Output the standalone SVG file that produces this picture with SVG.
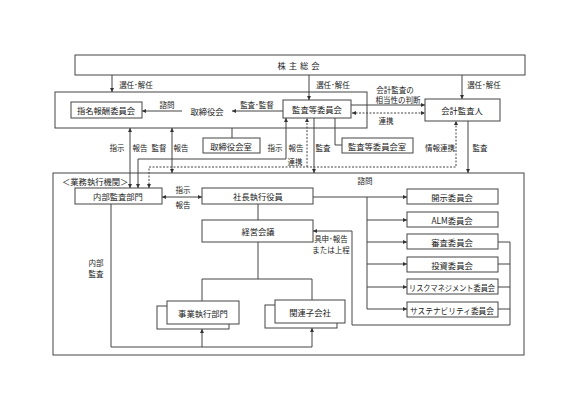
<svg xmlns="http://www.w3.org/2000/svg" width="587" height="415" viewBox="0 0 587 415">
<style>
.bx{fill:#fff;stroke:#444;stroke-width:1}
.t{font-family:"Noto Sans CJK JP","Noto Sans",sans-serif;font-size:8.3px;fill:#222;text-anchor:middle;dominant-baseline:central}
.l{font-family:"Noto Sans CJK JP","Noto Sans",sans-serif;font-size:7.5px;fill:#222;text-anchor:middle;dominant-baseline:central}
.c{fill:none;stroke:#444;stroke-width:1}
.d{fill:none;stroke:#444;stroke-width:1;stroke-dasharray:2,1.5}
</style>
<defs>
<marker id="ah" viewBox="0 0 6 6" refX="6" refY="3" markerWidth="4" markerHeight="4" orient="auto-start-reverse"><path d="M0,0L6,3L0,6z" fill="#333"/></marker>
</defs>
<rect width="587" height="415" fill="#fff"/>

<g id="shareholders"><rect class="bx" x="75" y="55" width="450" height="20"/><text class="t" x="300" y="65" letter-spacing="3">株主総会</text></g>
<g id="board"><rect class="bx" x="55" y="92" width="312" height="36"/><text class="t" x="207" y="111">取締役会</text></g>
<g id="nomination"><rect class="bx" x="71" y="102" width="71" height="16"/><text class="t" x="106" y="110">指名報酬委員会</text></g>
<g id="audit-committee"><rect class="bx" x="283" y="100" width="68" height="18"/><text class="t" x="317" y="109">監査等委員会</text></g>
<g id="auditor"><rect class="bx" x="425" y="99" width="75" height="22"/><text class="t" x="462" y="110">会計監査人</text></g>
<g id="board-office"><rect class="bx" x="203" y="138" width="57" height="15"/><text class="t" x="231" y="145.5">取締役会室</text></g>
<g id="audit-office"><rect class="bx" x="342" y="138" width="71" height="15"/><text class="t" x="377" y="145.5">監査等委員会室</text></g>

<g id="execution"><rect class="bx" x="53" y="173" width="471" height="182" fill="none"/><text class="t" x="62" y="181" style="text-anchor:start">＜業務執行機関＞</text></g>
<g id="internal-audit"><rect class="bx" x="75" y="188" width="87" height="16"/><text class="t" x="118" y="196">内部監査部門</text></g>
<g id="president"><rect class="bx" x="202" y="188" width="111" height="16"/><text class="t" x="258" y="196">社長執行役員</text></g>
<g id="management"><rect class="bx" x="202" y="220" width="111" height="22"/><text class="t" x="258" y="231">経営会議</text></g>
<g id="business"><rect class="bx" x="157" y="306" width="72" height="23"/><rect class="bx" x="167" y="301" width="72" height="23"/><text class="t" x="203" y="312.5">事業執行部門</text></g>
<g id="subsidiaries"><rect class="bx" x="265" y="305" width="72" height="23"/><rect class="bx" x="275" y="300" width="70" height="23"/><text class="t" x="310" y="311.5">関連子会社</text></g>
<g id="disclosure"><rect class="bx" x="407" y="189" width="91" height="15"/><text class="t" x="452" y="196.5">開示委員会</text></g>
<g id="alm"><rect class="bx" x="407" y="212" width="91" height="15"/><text class="t" x="452" y="219.5">ALM委員会</text></g>
<g id="review"><rect class="bx" x="407" y="234" width="91" height="15"/><text class="t" x="452" y="241.5">審査委員会</text></g>
<g id="investment"><rect class="bx" x="407" y="257" width="91" height="15"/><text class="t" x="452" y="264.5">投資委員会</text></g>
<g id="risk"><rect class="bx" x="407" y="279" width="91" height="15"/><text class="t" x="452" y="286.5" textLength="86" lengthAdjust="spacingAndGlyphs">リスクマネジメント委員会</text></g>
<g id="sustainability"><rect class="bx" x="407" y="302" width="91" height="15"/><text class="t" x="452" y="309.5" textLength="84" lengthAdjust="spacingAndGlyphs">サステナビリティ委員会</text></g>

<g id="connectors">
<path class="c" d="M112,75V92" marker-end="url(#ah)"/>
<path class="c" d="M309,75V100" marker-end="url(#ah)"/>
<path class="c" d="M462,75V99" marker-end="url(#ah)"/>
<path class="c" d="M182,111H142" marker-end="url(#ah)"/>
<path class="c" d="M283,111H232" marker-end="url(#ah)"/>
<path class="c" d="M351,105H425" marker-end="url(#ah)"/>
<path class="d" d="M352,113H425" marker-start="url(#ah)" marker-end="url(#ah)"/>
<path class="c" d="M232,128V138"/>
<path class="c" d="M130,128V188" marker-start="url(#ah)" marker-end="url(#ah)"/>
<path class="c" d="M172,128V173" marker-start="url(#ah)" marker-end="url(#ah)"/>
<path class="c" d="M286,118V159H138V188" marker-start="url(#ah)" marker-end="url(#ah)"/>
<path class="d" d="M149,188V167H456V121" marker-start="url(#ah)" marker-end="url(#ah)"/>
<path class="d" d="M307,167V118" marker-end="url(#ah)"/>
<path class="c" d="M314,118V173" marker-end="url(#ah)"/>
<path class="c" d="M335,118V145H342"/>
<path class="c" d="M468,121V173" marker-end="url(#ah)"/>
<path class="c" d="M162,197H202" marker-start="url(#ah)" marker-end="url(#ah)"/>
<path class="c" d="M313,197H407" marker-end="url(#ah)"/>
<path class="c" d="M367,197V309"/>
<path class="c" d="M367,220H407" marker-end="url(#ah)"/>
<path class="c" d="M367,242H407" marker-end="url(#ah)"/>
<path class="c" d="M367,264H407" marker-end="url(#ah)"/>
<path class="c" d="M367,287H407" marker-end="url(#ah)"/>
<path class="c" d="M367,309H407" marker-end="url(#ah)"/>
<path class="c" d="M498,242H510M498,264H510M498,287H510M498,309H510"/>
<path class="c" d="M510,242V325H352V231H313" marker-end="url(#ah)"/>
<path class="c" d="M258,204V220"/>
<path class="c" d="M258,242V279M202,279H312M202,279V301M312,279V300"/>
<path class="c" d="M111,204V347H312"/>
<path class="c" d="M202,347V329" marker-end="url(#ah)"/>
<path class="c" d="M312,347V328" marker-end="url(#ah)"/>
</g>

<g id="labels">
<text class="l" x="136" y="84">選任･解任</text>
<text class="l" x="333" y="84">選任･解任</text>
<text class="l" x="484" y="84">選任･解任</text>
<text class="l" x="167" y="104">諮問</text>
<text class="l" x="257" y="104">監査･監督</text>
<text class="l" x="395" y="89">会計監査の</text>
<text class="l" x="398" y="99">相当性の判断</text>
<text class="l" x="386" y="120">連携</text>
<text class="l" x="117" y="147">指示</text>
<text class="l" x="140" y="147">報告</text>
<text class="l" x="159" y="147">監督</text>
<text class="l" x="181" y="147">報告</text>
<text class="l" x="275" y="147">指示</text>
<text class="l" x="296" y="147">報告</text>
<text class="l" x="323" y="147">監査</text>
<text class="l" x="295" y="161">連携</text>
<text class="l" x="440" y="147">情報連携</text>
<text class="l" x="480" y="147">監査</text>
<text class="l" x="183" y="189">指示</text>
<text class="l" x="183" y="204">報告</text>
<text class="l" x="365" y="180">諮問</text>
<text class="l" x="331" y="238">具申･報告</text>
<text class="l" x="331" y="249">または上程</text>
<text class="l" x="96" y="262">内部</text>
<text class="l" x="96" y="273">監査</text>
</g>
</svg>
